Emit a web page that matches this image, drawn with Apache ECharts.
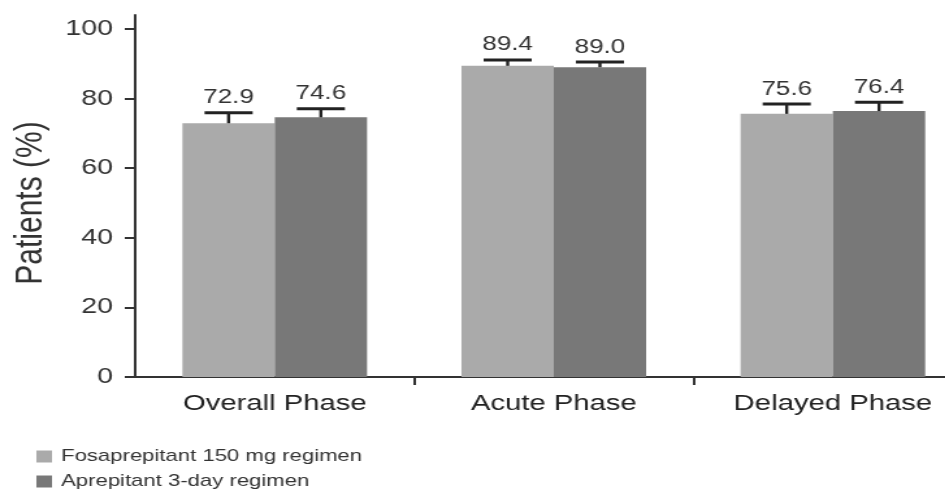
<!DOCTYPE html>
<html><head><meta charset="utf-8">
<script src="https://cdn.jsdelivr.net/npm/echarts@6/dist/echarts.min.js"></script>
<style>
html,body{margin:0;padding:0;background:#fff;overflow:hidden}
#wrap{width:945px;height:493px;overflow:hidden;position:relative}
#chart{width:727px;height:493px;transform:scaleX(1.3);transform-origin:0 0}
</style>
</head><body><div id="wrap"><div id="chart"></div></div>
<script>
// ---- data ----
const categories = ['Overall Phase', 'Acute Phase', 'Delayed Phase'];
const seriesNames = ['Fosaprepitant 150 mg regimen', 'Aprepitant 3-day regimen'];
const fosaValues = [72.9, 89.4, 75.6];
const aprepValues = [74.6, 89.0, 76.4];
const fosaUpper = [75.9, 91.1, 78.4];
const aprepUpper = [77.1, 90.5, 78.9];
const yTicks = [0, 20, 40, 60, 80, 100];
const yTitle = 'Patients (%)';

// ---- styles ----
const FONT = '"Liberation Sans", Arial, sans-serif';
const BAR_W = 71;
const CAP = 37;
const colors = ['#aaaaaa', '#787878'];

const errData = [];
fosaValues.forEach((v, i) => errData.push([i, v, fosaUpper[i], 0]));
aprepValues.forEach((v, i) => errData.push([i, v, aprepUpper[i], 1]));

function renderErr(params, api) {
  const ci = api.value(0), v = api.value(1), up = api.value(2), si = api.value(3);
  const base = api.coord([ci, v]);
  const top = api.coord([ci, up]);
  const x = base[0] + (si === 0 ? -1 : 1) * BAR_W / 2;
  return {
    type: 'group',
    children: [
      { type: 'line', shape: { x1: x, y1: base[1], x2: x, y2: top[1] }, style: { stroke: '#222', lineWidth: 2.4 } },
      { type: 'line', shape: { x1: x - CAP / 2, y1: top[1], x2: x + CAP / 2, y2: top[1] }, style: { stroke: '#222', lineWidth: 3 } },
      { type: 'text', x: x, y: top[1] - 5,
        style: { text: v.toFixed(1), fill: '#333', fontSize: 20, fontFamily: FONT, align: 'center', verticalAlign: 'bottom' } }
    ]
  };
}

const chart = echarts.init(document.getElementById('chart'), null, { renderer: 'canvas' });
chart.setOption({
  animation: false,
  backgroundColor: '#fff',
  color: colors,
  grid: { left: 104, top: 15, width: 644, height: 362, containLabel: false, outerBoundsMode: 'none' },
  legend: {
    data: seriesNames,
    orient: 'vertical',
    left: 28,
    top: 448,
    padding: 0,
    itemWidth: 12,
    itemHeight: 12,
    itemGap: 8,
    icon: 'rect',
    textStyle: { fontSize: 17, color: '#333', fontFamily: FONT, lineHeight: 17, padding: [0, 0, 0, 2] }
  },
  graphic: [{
    type: 'text',
    x: 24,
    y: 203,
    rotation: Math.PI / 2,
    style: { text: yTitle, fontSize: 30, fill: '#333', fontFamily: FONT, align: 'center', verticalAlign: 'middle' }
  }],
  xAxis: {
    type: 'category',
    data: categories,
    axisLine: { lineStyle: { color: '#333', width: 2 } },
    axisTick: { show: true, length: 8, interval: function (i) { return i > 0; }, lineStyle: { color: '#333', width: 2 } },
    axisLabel: { fontSize: 22.5, color: '#222', margin: 15, fontFamily: FONT }
  },
  yAxis: {
    type: 'value',
    min: 0,
    max: 104,
    axisLine: { show: true, lineStyle: { color: '#333', width: 2 } },
    axisTick: { show: true, length: 8, customValues: yTicks, lineStyle: { color: '#333', width: 2 } },
    axisLabel: { fontSize: 22, color: '#333', margin: 17, fontFamily: FONT, customValues: yTicks },
    splitLine: { show: false }
  },
  series: [
    { name: seriesNames[0], type: 'bar', data: fosaValues, barWidth: BAR_W, barGap: '0%', itemStyle: { color: colors[0] } },
    { name: seriesNames[1], type: 'bar', data: aprepValues, barWidth: BAR_W, barGap: '0%', itemStyle: { color: colors[1] } },
    { type: 'custom', renderItem: renderErr, data: errData, z: 5, silent: true,
      encode: { x: 0, y: [1, 2] } }
  ]
});
</script>
</body></html>
